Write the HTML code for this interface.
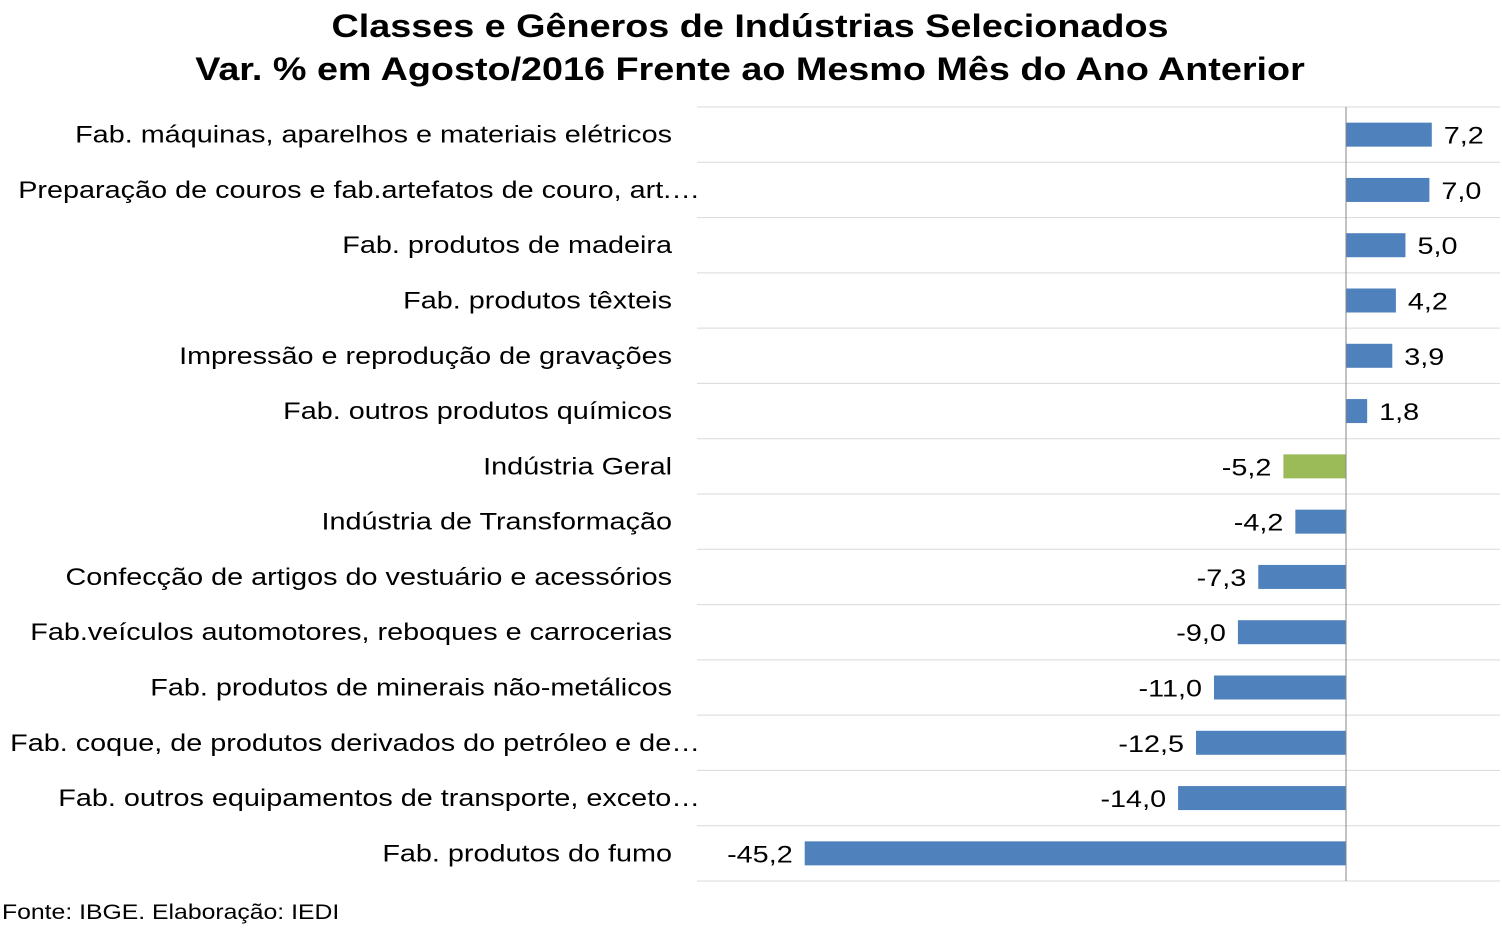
<!DOCTYPE html>
<html><head><meta charset="utf-8"><style>
body{margin:0;background:#fff;}
svg{display:block;font-family:"Liberation Sans",Arial,sans-serif;}
</style></head><body>
<svg id="chart" width="1502" height="929">
<text transform="translate(750,37) scale(1.18,1)" text-anchor="middle" font-size="32" font-weight="bold" fill="#000">Classes e Gêneros de Indústrias Selecionados</text>
<text transform="translate(750,80) scale(1.18,1)" text-anchor="middle" font-size="32" font-weight="bold" fill="#000">Var. % em Agosto/2016 Frente ao Mesmo Mês do Ano Anterior</text>
<g id="grid"></g><g id="bars"></g><g id="labels"></g>
<line x1="1346" y1="107" x2="1346" y2="881" stroke="#868686" stroke-width="1"/>
<text transform="translate(2,919) scale(1.18,1)" font-size="21" fill="#000">Fonte: IBGE. Elaboração: IEDI</text>
</svg>
<script>
const categories = ["Fab. máquinas, aparelhos e materiais elétricos","Preparação de couros e fab.artefatos de couro, art.…","Fab. produtos de madeira","Fab. produtos têxteis","Impressão e reprodução de gravações","Fab. outros produtos químicos","Indústria Geral","Indústria de Transformação","Confecção de artigos do vestuário e acessórios","Fab.veículos automotores, reboques e carrocerias","Fab. produtos de minerais não-metálicos","Fab. coque, de produtos derivados do petróleo e de…","Fab. outros equipamentos de transporte, exceto…","Fab. produtos do fumo"];
const values = [7.2,7.0,5.0,4.2,3.9,1.8,-5.2,-4.2,-7.3,-9.0,-11.0,-12.5,-14.0,-45.2];
const highlight = [false,false,false,false,false,false,true,false,false,false,false,false,false,false];
const xMin=-54.2, xMax=12.9, plotL=697, plotR=1500, plotT=107, plotB=881;
const x=v=>plotL+(v-xMin)/(xMax-xMin)*(plotR-plotL);
const rowH=(plotB-plotT)/categories.length;
const SX=1.2;
const NS="http://www.w3.org/2000/svg";
const g=document.getElementById('grid'),b=document.getElementById('bars'),l=document.getElementById('labels');
function mk(tag,attrs,parent){const e=document.createElementNS(NS,tag);for(const k in attrs)e.setAttribute(k,attrs[k]);parent.appendChild(e);return e;}
for(let i=0;i<=categories.length;i++){
  const ln=mk('line',{x1:plotL,x2:plotR,y1:plotT+i*rowH,y2:plotT+i*rowH,stroke:'#d9d9d9','stroke-width':1},g);
  
  
}
categories.forEach((c,i)=>{
  const cy=plotT+(i+0.5)*rowH, v=values[i];
  const x0=x(0), x1=x(v);
  const r=mk('rect',{x:Math.min(x0,x1),y:cy-12,width:Math.abs(x1-x0),height:24,fill:highlight[i]?'#9bbb59':'#4f81bd'},b);
  
  
  const trunc=c.endsWith('…');
  const t=mk('text',{transform:`translate(${trunc?700:672},${cy+8}) scale(${SX},1)`,'text-anchor':'end','font-size':24,fill:'#000'},l);
  t.textContent=c;
  
  
  const vt=mk('text',{transform:`translate(${v>=0?x1+12:x1-12},${cy+9}) scale(${SX},1)`,'text-anchor':v>=0?'start':'end','font-size':24,fill:'#000'},l);
  vt.textContent=v.toFixed(1).replace('.',',');
  
  
});
</script>
</body></html>
